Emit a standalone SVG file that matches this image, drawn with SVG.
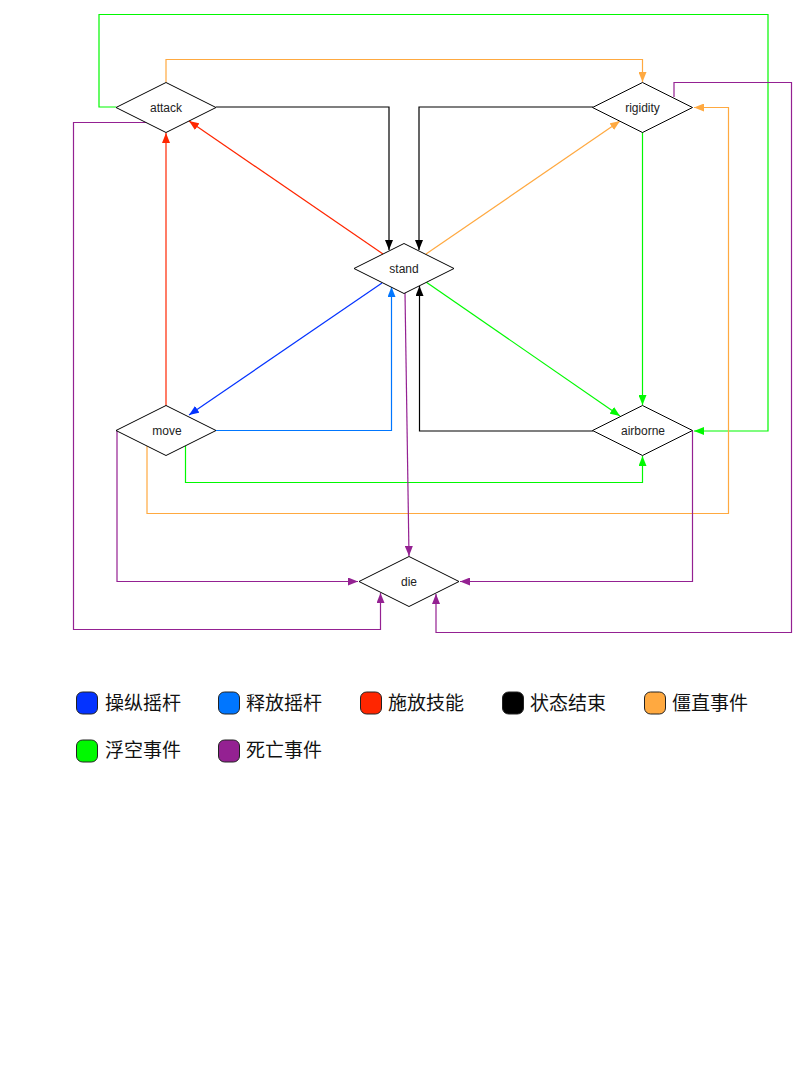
<svg xmlns="http://www.w3.org/2000/svg" width="806" height="1072" viewBox="0 0 806 1072">
<style>
.n{fill:#fff;stroke:#000;stroke-width:1}
.t{font-family:"Liberation Sans",Arial,sans-serif;font-size:12px;fill:#222;text-anchor:middle}
.c{fill:none;stroke-width:1.2}
.lg{font-family:"Noto Sans CJK SC",sans-serif;font-size:19px;fill:#111}
.sw{stroke:#222;stroke-width:1}
</style>
<defs>
<marker id="aK" viewBox="0 0 10 8" refX="10" refY="4" markerWidth="10" markerHeight="8" markerUnits="userSpaceOnUse" orient="auto"><path d="M0,0L10,4L0,8z" fill="#000"/></marker>
<marker id="aR" viewBox="0 0 10 8" refX="10" refY="4" markerWidth="10" markerHeight="8" markerUnits="userSpaceOnUse" orient="auto"><path d="M0,0L10,4L0,8z" fill="#FF2600"/></marker>
<marker id="aO" viewBox="0 0 10 8" refX="10" refY="4" markerWidth="10" markerHeight="8" markerUnits="userSpaceOnUse" orient="auto"><path d="M0,0L10,4L0,8z" fill="#FFA940"/></marker>
<marker id="aG" viewBox="0 0 10 8" refX="10" refY="4" markerWidth="10" markerHeight="8" markerUnits="userSpaceOnUse" orient="auto"><path d="M0,0L10,4L0,8z" fill="#00F900"/></marker>
<marker id="aP" viewBox="0 0 10 8" refX="10" refY="4" markerWidth="10" markerHeight="8" markerUnits="userSpaceOnUse" orient="auto"><path d="M0,0L10,4L0,8z" fill="#942192"/></marker>
<marker id="aB" viewBox="0 0 10 8" refX="10" refY="4" markerWidth="10" markerHeight="8" markerUnits="userSpaceOnUse" orient="auto"><path d="M0,0L10,4L0,8z" fill="#0433FF"/></marker>
<marker id="aA" viewBox="0 0 10 8" refX="10" refY="4" markerWidth="10" markerHeight="8" markerUnits="userSpaceOnUse" orient="auto"><path d="M0,0L10,4L0,8z" fill="#0076FF"/></marker>
</defs>
<rect width="806" height="1072" fill="#fff"/>
<g id="connectors">
<!-- green attack -> airborne -->
<path class="c" stroke="#00F900" d="M116,107H99V14.5H768V431H694" marker-end="url(#aG)"/>
<!-- orange attack -> rigidity -->
<path class="c" stroke="#FFA940" d="M166,82V59.5H642.5V82" marker-end="url(#aO)"/>
<!-- black attack -> stand -->
<path class="c" stroke="#000" d="M216,107H389V250" marker-end="url(#aK)"/>
<!-- black rigidity -> stand -->
<path class="c" stroke="#000" d="M593,107H419V250" marker-end="url(#aK)"/>
<!-- red stand -> attack -->
<path class="c" stroke="#FF2600" d="M383,254L189,121" marker-end="url(#aR)"/>
<!-- red move -> attack -->
<path class="c" stroke="#FF2600" d="M166,406V133" marker-end="url(#aR)"/>
<!-- orange stand -> rigidity -->
<path class="c" stroke="#FFA940" d="M426,254L620,121" marker-end="url(#aO)"/>
<!-- green rigidity -> airborne -->
<path class="c" stroke="#00F900" d="M642.5,132V405" marker-end="url(#aG)"/>
<!-- purple rigidity -> die -->
<path class="c" stroke="#942192" d="M674,97V82.5H791.5V632.5H436V594" marker-end="url(#aP)"/>
<!-- orange move -> rigidity -->
<path class="c" stroke="#FFA940" d="M147,446V513.5H728.5V107.5H694" marker-end="url(#aO)"/>
<!-- purple attack -> die -->
<path class="c" stroke="#942192" d="M147,122.5H73.5V629.5H380.5V593" marker-end="url(#aP)"/>
<!-- blue stand -> move -->
<path class="c" stroke="#0433FF" d="M382,283L189,415" marker-end="url(#aB)"/>
<!-- light blue move -> stand -->
<path class="c" stroke="#0076FF" d="M216,430.5H391.5V287" marker-end="url(#aA)"/>
<!-- black airborne -> stand -->
<path class="c" stroke="#000" d="M593,431H419.5V286" marker-end="url(#aK)"/>
<!-- green stand -> airborne -->
<path class="c" stroke="#00F900" d="M426,282L620,416" marker-end="url(#aG)"/>
<!-- green move -> airborne -->
<path class="c" stroke="#00F900" d="M185.5,446V482.5H642.5V456" marker-end="url(#aG)"/>
<!-- purple stand -> die -->
<path class="c" stroke="#942192" d="M405,293L409,556" marker-end="url(#aP)"/>
<!-- purple move -> die -->
<path class="c" stroke="#942192" d="M117,430V581.5H358" marker-end="url(#aP)"/>
<!-- purple airborne -> die -->
<path class="c" stroke="#942192" d="M692.5,431V581.5H460" marker-end="url(#aP)"/>
</g>
<g id="attack"><path class="n" d="M166,82.5L216,107.5L166,132.5L116,107.5Z"/><text class="t" x="166" y="111.5">attack</text></g>
<g id="rigidity"><path class="n" d="M642.5,82.5L692.5,107.5L642.5,132.5L592.5,107.5Z"/><text class="t" x="642.5" y="111.5">rigidity</text></g>
<g id="stand"><path class="n" d="M404,243.5L454,268.5L404,293.5L354,268.5Z"/><text class="t" x="404" y="272.5">stand</text></g>
<g id="move"><path class="n" d="M166,405.5L216,430.5L166,455.5L116,430.5Z"/><text class="t" x="167" y="434.5">move</text></g>
<g id="airborne"><path class="n" d="M642.5,405.5L692.5,430.5L642.5,455.5L592.5,430.5Z"/><text class="t" x="643" y="434.5">airborne</text></g>
<g id="die"><path class="n" d="M409,556.5L459,581.5L409,606.5L359,581.5Z"/><text class="t" x="409" y="585.5">die</text></g>
<g id="legend">
<rect class="sw" x="76.5" y="692" width="21" height="22" rx="6" fill="#0433FF"/>
<text class="lg" x="105" y="710">操纵摇杆</text>
<rect class="sw" x="218.5" y="692" width="21" height="22" rx="6" fill="#0076FF"/>
<text class="lg" x="246" y="710">释放摇杆</text>
<rect class="sw" x="360.5" y="692" width="21" height="22" rx="6" fill="#FF2600"/>
<text class="lg" x="388" y="710">施放技能</text>
<rect class="sw" x="502.5" y="692" width="21" height="22" rx="6" fill="#000"/>
<text class="lg" x="530" y="710">状态结束</text>
<rect class="sw" x="644.5" y="692" width="21" height="22" rx="6" fill="#FFA940"/>
<text class="lg" x="672" y="710">僵直事件</text>
<rect class="sw" x="76.5" y="740" width="21" height="22" rx="6" fill="#00F900"/>
<text class="lg" x="105" y="757">浮空事件</text>
<rect class="sw" x="218.5" y="740" width="21" height="22" rx="6" fill="#942192"/>
<text class="lg" x="246" y="757">死亡事件</text>
</g>
</svg>
